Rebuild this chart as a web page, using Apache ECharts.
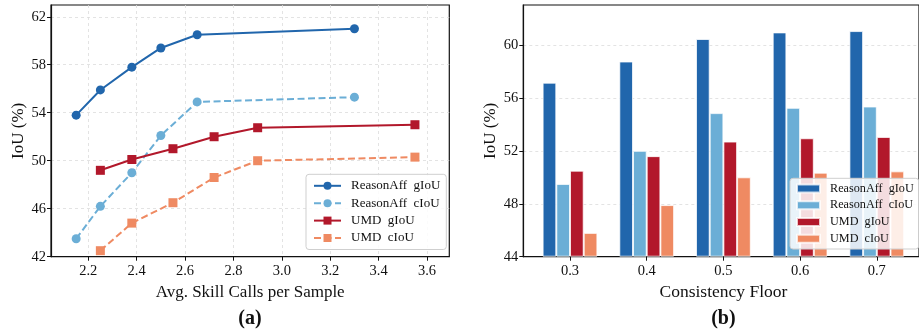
<!DOCTYPE html>
<html>
    <head>
        <meta charset="utf-8">
        <script src="https://cdn.jsdelivr.net/npm/echarts@6/dist/echarts.min.js"></script>
        <style>
            html, body { margin: 0; padding: 0; background: #fff; }
            #main { width: 919px; height: 333px; }
        </style>
    </head>
    <body>
        <div id="main"></div>
        <script>
            // (a) line chart data
            var seriesNames = ['ReasonAff  gIoU', 'ReasonAff  cIoU', 'UMD  gIoU', 'UMD  cIoU'];
            var callsReasonAff = [2.15, 2.25, 2.38, 2.5, 2.65, 3.3];
            var reasonAffG = [53.8, 55.9, 57.8, 59.4, 60.5, 61.0];
            var reasonAffC = [43.5, 46.2, 49.0, 52.1, 54.9, 55.3];
            var callsUMD = [2.25, 2.38, 2.55, 2.72, 2.9, 3.55];
            var umdG = [49.2, 50.1, 51.0, 52.0, 52.75, 53.0];
            var umdC = [42.5, 44.8, 46.5, 48.6, 50.0, 50.3];
            var xTicksA = [2.2, 2.4, 2.6, 2.8, 3.0, 3.2, 3.4, 3.6];
            var yTicksA = [42, 46, 50, 54, 58, 62];

            // (b) bar chart data
            var floors = ['0.3', '0.4', '0.5', '0.6', '0.7'];
            var barReasonAffG = [57.15, 58.75, 60.45, 60.95, 61.05];
            var barReasonAffC = [49.5, 52.0, 54.85, 55.25, 55.35];
            var barUmdG = [50.5, 51.6, 52.7, 52.95, 53.05];
            var barUmdC = [45.8, 47.9, 50.0, 50.35, 50.45];
            var yTicksB = [44, 48, 52, 56, 60];

            var colors = ['#2166ac', '#6baed6', '#b2182b', '#ef8a62'];
            var serif = '"Liberation Serif", "DejaVu Serif", serif';

            function pairs(xs, ys) {
                return xs.map(function (x, i) { return [x, ys[i]]; });
            }

            var chart = echarts.init(document.getElementById('main'));

            var splitDash = { show: true, lineStyle: { color: '#dcdcdc', width: 0.8, type: [3, 3] } };
            var tickLabel = { color: '#111', fontFamily: serif, fontSize: 14.5 };
            var axisBlack = { show: true, lineStyle: { color: '#111', width: 1.2 } };
            var tickOut = { show: true, inside: false, length: 4, lineStyle: { color: '#111', width: 1 } };

            var lineSeries = [
                { name: seriesNames[0], x: callsReasonAff, y: reasonAffG, dash: 'solid', sym: 'circle' },
                { name: seriesNames[1], x: callsReasonAff, y: reasonAffC, dash: [7, 3.5], sym: 'circle' },
                { name: seriesNames[2], x: callsUMD, y: umdG, dash: 'solid', sym: 'rect' },
                { name: seriesNames[3], x: callsUMD, y: umdC, dash: [7, 3.5], sym: 'rect' }
            ].map(function (s, i) {
                return {
                    name: s.name,
                    type: 'line',
                    xAxisIndex: 0,
                    yAxisIndex: 0,
                    data: pairs(s.x, s.y),
                    symbol: s.sym,
                    symbolSize: 9,
                    color: colors[i],
                    lineStyle: { width: 2, type: s.dash, color: colors[i] },
                    itemStyle: { color: colors[i] },
                    z: 3
                };
            });

            var barData = [barReasonAffG, barReasonAffC, barUmdG, barUmdC];
            var barSeries = barData.map(function (vals, i) {
                return {
                    name: seriesNames[i] + '#b',
                    type: 'bar',
                    xAxisIndex: 2,
                    yAxisIndex: 2,
                    data: vals,
                    barWidth: 13.7,
                    barGap: '0%',
                    clip: true,
                    color: colors[i],
                    itemStyle: { color: colors[i], borderColor: 'rgba(255,255,255,0.75)', borderWidth: 1 },
                    z: 3
                };
            });

            var option = {
                animation: false,
                backgroundColor: '#fff',
                textStyle: { fontFamily: serif },
                grid: [
                    { left: 51, right: 469.7, top: 5, bottom: 76.3, show: true, borderColor: '#111', borderWidth: 1.2 },
                    { left: 523.3, right: -3, top: 5, bottom: 76.3, show: true, borderColor: '#111', borderWidth: 1.2 },
                    { left: 531.65, right: 3.85, top: 5, bottom: 76.3 }
                ],
                xAxis: [
                    {
                        gridIndex: 0, type: 'value', min: 2.046, max: 3.692,
                        name: 'Avg. Skill Calls per Sample', nameLocation: 'middle', nameGap: 17,
                        nameTextStyle: { color: '#111', fontFamily: serif, fontSize: 17 },
                        axisLine: axisBlack, axisTick: Object.assign({ customValues: xTicksA }, tickOut),
                        axisLabel: Object.assign({ customValues: xTicksA, margin: 7,
                            formatter: function (v) { return v.toFixed(1); } }, tickLabel),
                        splitLine: splitDash
                    },
                    {
                        gridIndex: 1, type: 'value', min: 0, max: 1,
                        axisLine: axisBlack, axisTick: { show: false }, axisLabel: { show: false }, splitLine: { show: false }
                    },
                    {
                        gridIndex: 2, type: 'category', data: floors,
                        name: 'Consistency Floor', nameLocation: 'middle', nameGap: 17,
                        nameTextStyle: { color: '#111', fontFamily: serif, fontSize: 17.5 },
                        axisLine: { show: false },
                        axisTick: Object.assign({ alignWithLabel: true }, tickOut),
                        axisLabel: Object.assign({ margin: 7 }, tickLabel),
                        splitLine: { show: false }
                    }
                ],
                yAxis: [
                    {
                        gridIndex: 0, type: 'value', min: 42, max: 62.98,
                        name: 'IoU (%)', nameLocation: 'middle', nameGap: 24,
                        nameTextStyle: { color: '#111', fontFamily: serif, fontSize: 17 },
                        axisLine: axisBlack, axisTick: Object.assign({ customValues: yTicksA }, tickOut),
                        axisLabel: Object.assign({ customValues: yTicksA, margin: 5 }, tickLabel),
                        splitLine: splitDash
                    },
                    {
                        gridIndex: 1, type: 'value', min: 44, max: 63.02,
                        name: 'IoU (%)', nameLocation: 'middle', nameGap: 24,
                        nameTextStyle: { color: '#111', fontFamily: serif, fontSize: 17 },
                        axisLine: axisBlack, axisTick: Object.assign({ customValues: yTicksB }, tickOut),
                        axisLabel: Object.assign({ customValues: yTicksB, margin: 5 }, tickLabel),
                        splitLine: splitDash
                    },
                    {
                        gridIndex: 2, type: 'value', min: 44, max: 63.02, startValue: 44,
                        show: false, splitLine: { show: false }
                    }
                ],
                legend: [
                    {
                        orient: 'vertical', left: 306, top: 174.3,
                        data: seriesNames,
                        itemWidth: 27, itemHeight: 10, itemGap: 4.4,
                        padding: [5, 6, 5, 7],
                        backgroundColor: 'rgba(255,255,255,0.85)',
                        borderColor: '#cfcfcf', borderWidth: 1, borderRadius: 3,
                        textStyle: { color: '#111', fontFamily: serif, fontSize: 13, padding: [0, 0, 0, 5] }
                    },
                    {
                        orient: 'vertical', left: 790, top: 178.3,
                        data: seriesNames.map(function (n) { return n + '#b'; }),
                        formatter: function (n) { return n.replace('#b', ''); },
                        icon: 'rect',
                        itemWidth: 23, itemHeight: 8, itemGap: 4.7,
                        padding: [4.3, 5, 4.3, 6],
                        backgroundColor: 'rgba(255,255,255,0.85)',
                        borderColor: '#cfcfcf', borderWidth: 1, borderRadius: 3,
                        textStyle: { color: '#111', fontFamily: serif, fontSize: 12.2, padding: [0, 0, 0, 5] }
                    }
                ],
                graphic: [
                    { type: 'text', x: 250, y: 319, style: { text: '(a)', textAlign: 'center', textVerticalAlign: 'middle',
                        font: 'bold 20px "Liberation Serif"', fill: '#111' } },
                    { type: 'text', x: 723.4, y: 319, style: { text: '(b)', textAlign: 'center', textVerticalAlign: 'middle',
                        font: 'bold 20px "Liberation Serif"', fill: '#111' } }
                ],
                series: lineSeries.concat(barSeries)
            };

            chart.setOption(option);
        </script>
    </body>
</html>
